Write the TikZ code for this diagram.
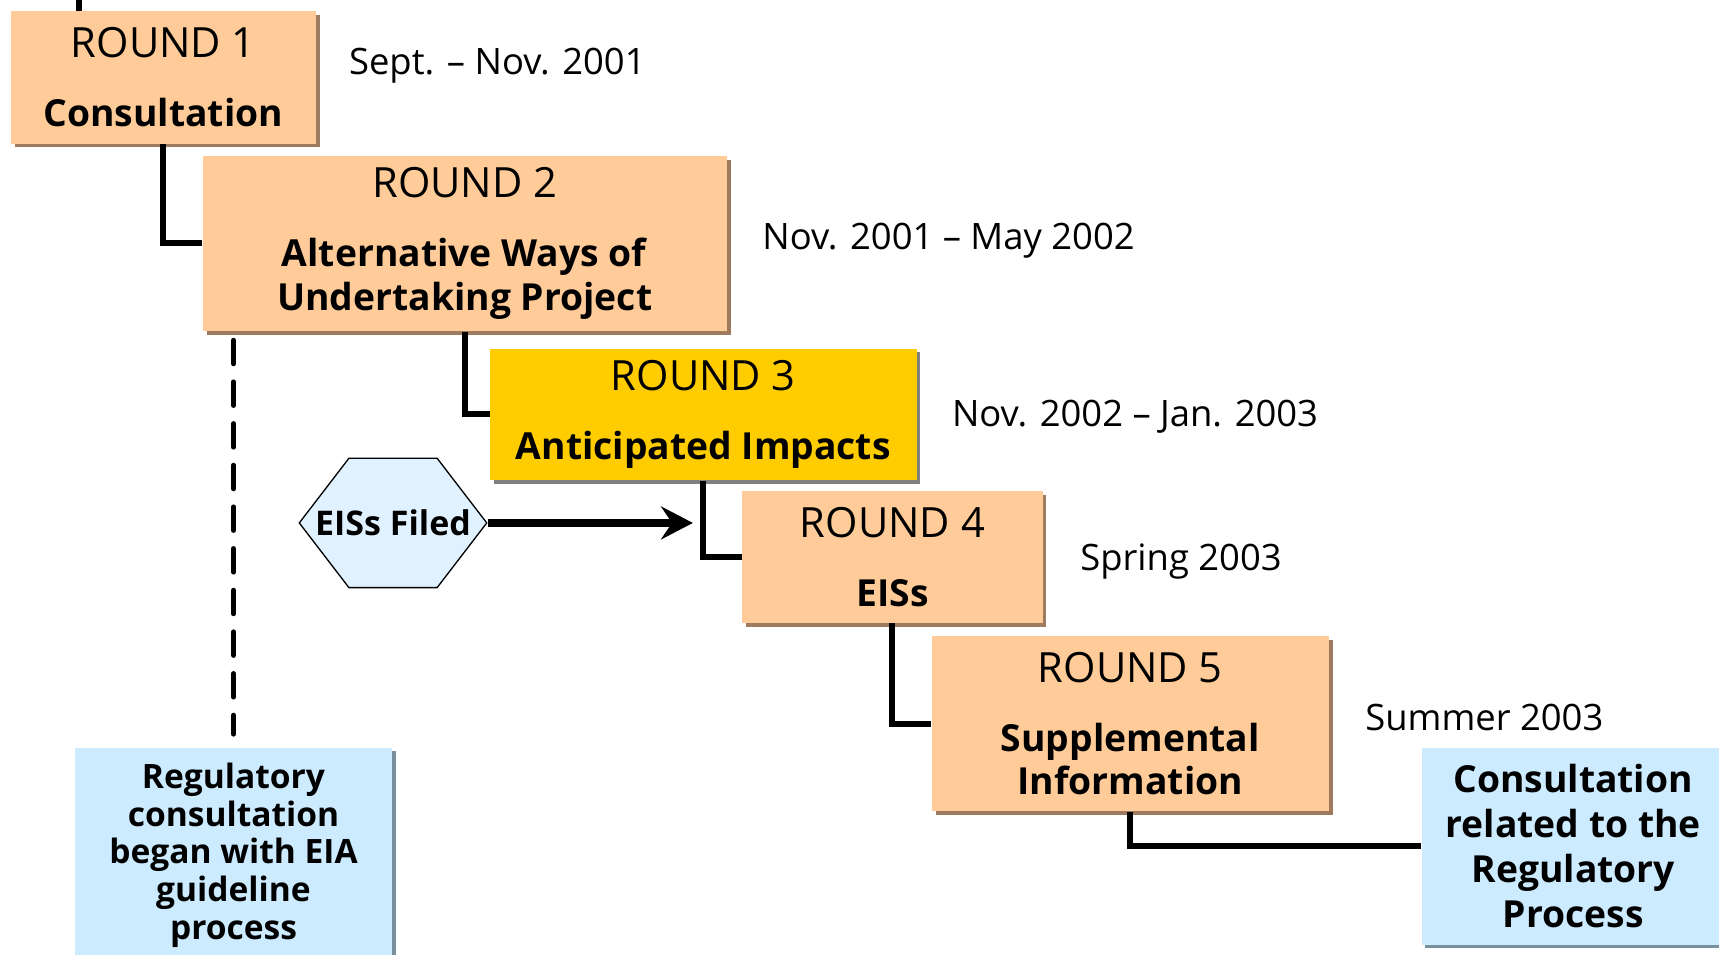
\documentclass[tikz,border=0pt]{standalone}
\usepackage{fontspec}
\setmainfont{Open Sans}
\usetikzlibrary{shapes.symbols,shadows,arrows.meta}
\definecolor{peach}{HTML}{FFCC99}
\definecolor{peachshade}{HTML}{9E7B5E}
\definecolor{gold}{HTML}{FFCC00}
\definecolor{goldshade}{HTML}{808080}
\definecolor{skyfill}{HTML}{CCEBFF}
\definecolor{skyshade}{HTML}{7890A0}
\definecolor{hexfill}{HTML}{E0F2FF}
\newcommand{\roundno}[1]{{\fontsize{19}{20}\selectfont ROUND #1}}
\tikzset{
ROUNDBOX/.style={fill=peach,align=center,inner sep=0pt,font=\fontsize{17}{20}\selectfont,
  drop shadow={shadow xshift=1.75pt,shadow yshift=-1.75pt,fill=peachshade,opacity=1}},
GOLDBOX/.style={ROUNDBOX,fill=gold,drop shadow={shadow xshift=1.75pt,shadow yshift=-1.75pt,fill=goldshade,opacity=1}},
SKYBOX/.style={fill=skyfill,align=center,inner sep=0pt,font=\bfseries,
  drop shadow={shadow xshift=1.5pt,shadow yshift=-1.5pt,fill=skyshade,opacity=1}},
DATE/.style={anchor=base west,inner sep=0pt,font=\fontsize{16.6}{20}\selectfont},
LINK/.style={draw=black,line width=2.7pt,line join=miter,line cap=butt},
DASHLINK/.style={draw=black,line width=2.3pt,line cap=round,dash pattern=on 10.7pt off 8.3pt},
FILEDARROW/.style={draw=black,line width=3.6pt,-{Stealth[length=14.5pt,width=15pt,inset=5pt]}},
}
\begin{document}
\begin{tikzpicture}[x=0.5pt,y=-0.5pt]
	\useasboundingbox (0,0) rectangle (1568,871);
	\clip (0,0) rectangle (1568,871);
	\node[ROUNDBOX,minimum width=139pt,minimum height=60.5pt] (r1) at (149,70.5)
		{\roundno{1}\\[11.5pt]\textbf{Consultation}};
	\node[ROUNDBOX,minimum width=239pt,minimum height=80pt] (r2) at (424,222)
		{\roundno{2}\\[11.5pt]\textbf{Alternative Ways of}\\\textbf{Undertaking Project}};
	\node[GOLDBOX,minimum width=194.5pt,minimum height=60pt] (r3) at (641.5,378)
		{\roundno{3}\\[11.5pt]\textbf{Anticipated Impacts}};
	\node[ROUNDBOX,minimum width=137pt,minimum height=60pt] (r4) at (814,508)
		{\roundno{4}\\[11.5pt]\textbf{EISs}};
	\node[ROUNDBOX,minimum width=181pt,minimum height=80pt] (r5) at (1031,660)
		{\roundno{5}\\[11.5pt]\textbf{Supplemental}\\\textbf{Information}};
	\node[SKYBOX,font=\bfseries\fontsize{15.3}{17.25}\selectfont,minimum width=145pt,minimum height=98pt] (regstart) at (213,780)
		{Regulatory\\consultation\\began with EIA\\guideline\\process};
	\node[SKYBOX,font=\bfseries\fontsize{17}{20.5}\selectfont,minimum width=138pt,minimum height=90pt] (regprocess) at (1435,772)
		{Consultation\\related to the\\Regulatory\\Process};
	\node[signal,signal to=west and east,signal pointer angle=105,draw=black,line width=0.6pt,fill=hexfill,
		minimum width=85.5pt,minimum height=59pt,inner sep=0pt,font=\bfseries\fontsize{15.5}{17}\selectfont] (filed) at (358.5,477)
		{\makebox[0pt]{EISs Filed}};
	%dates
	\node[DATE] (d1) at (318,68) {Sept. -- Nov. 2001};
	\node[DATE] (d2) at (695,228) {Nov. 2001 -- May 2002};
	\node[DATE] (d3) at (868,389) {Nov. 2002 -- Jan. 2003};
	\node[DATE] (d4) at (985,520) {Spring 2003};
	\node[DATE] (d5) at (1245,666) {Summer 2003};
	%links
	\coordinate (top) at (72,0);
	\coordinate (tip) at (632,477);
	\draw[LINK] (top) -- (top |- r1.north);
	\draw[LINK] (r1.south) |- (r2.west);
	\draw[LINK] (r2.south) |- (r3.west);
	\draw[LINK] (r3.south) |- (r4.west);
	\draw[LINK] (r4.south) |- (r5.west);
	\draw[LINK] (r5.south) |- (regprocess.west);
	\draw[DASHLINK] ([yshift=-4pt]regstart.north |- r2.south) -- ([yshift=6pt]regstart.north);
	\draw[FILEDARROW] (filed.east) -- (tip);
\end{tikzpicture}
\end{document}
